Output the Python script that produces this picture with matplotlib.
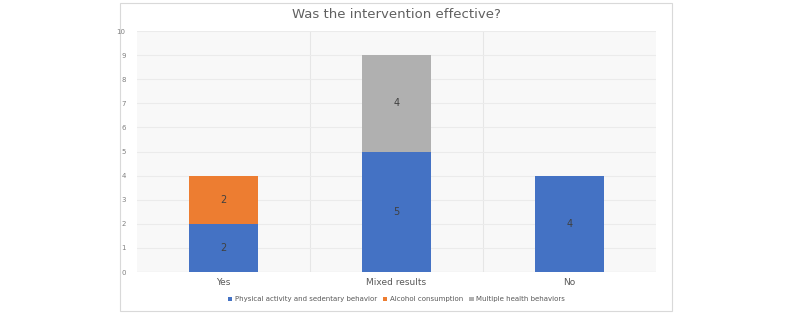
import matplotlib.pyplot as plt
import matplotlib.patches as mpatches
import numpy as np

categories = ["Yes", "Mixed results", "No"]
physical = [2, 5, 4]
alcohol = [2, 0, 0]
multiple = [0, 4, 0]
series_names = ["Physical activity and sedentary behavior", "Alcohol consumption",
                "Multiple health behaviors"]
colors = ["#4472c4", "#ed7d31", "#b0b0b0"]

fig = plt.figure(figsize=(8, 3.15), dpi=100)
fig.patch.set_facecolor("white")
# outer chart frame
frame = mpatches.Rectangle((0.15, 0.013), 0.69, 0.977, transform=fig.transFigure,
                           facecolor="white", edgecolor="#d9d9d9", lw=0.8, zorder=-1)
fig.patches.append(frame)

ax = fig.add_axes([0.171, 0.1365, 0.649, 0.765])
ax.set_facecolor("#f8f8f8")

x = np.arange(len(categories))
w = 0.4
bottom = np.zeros(len(categories))
for vals, name, c in zip([physical, alcohol, multiple], series_names, colors):
    vals = np.array(vals)
    ax.bar(x, vals, w, bottom=bottom, color=c, label=name, zorder=3)
    for xi, v, b in zip(x, vals, bottom):
        if v > 0:
            ax.text(xi, b + v / 2, str(v), ha="center", va="center",
                    fontsize=7, color="#404040", zorder=4)
    bottom += vals

ax.set_xlim(-0.5, 2.5)
ax.set_ylim(0, 10)
ax.set_yticks(range(0, 11))
ax.set_xticks(x)
ax.set_xticklabels(categories)
ax.tick_params(axis="y", labelsize=5, colors="#808080", length=0, pad=8)
ax.tick_params(axis="x", labelsize=6.5, colors="#595959", length=0, pad=4)
ax.yaxis.grid(True, color="#ebebeb", lw=0.8, zorder=0)
for b in [0.5, 1.5]:
    ax.axvline(b, color="#e6e6e6", lw=0.8, zorder=0)
for s in ax.spines.values():
    s.set_visible(False)
ax.axhline(0, color="#dedede", lw=0.8, zorder=2)

fig.text(0.495, 0.955, "Was the intervention effective?", ha="center", va="center",
         fontsize=9.5, color="#606060")

ax.legend(loc="upper center", bbox_to_anchor=(0.5, -0.075), ncol=3, frameon=False,
          fontsize=5, handlelength=0.6, handleheight=0.6, handletextpad=0.4,
          columnspacing=0.9, labelcolor="#595959")

fig.savefig("out.png", dpi=100)
